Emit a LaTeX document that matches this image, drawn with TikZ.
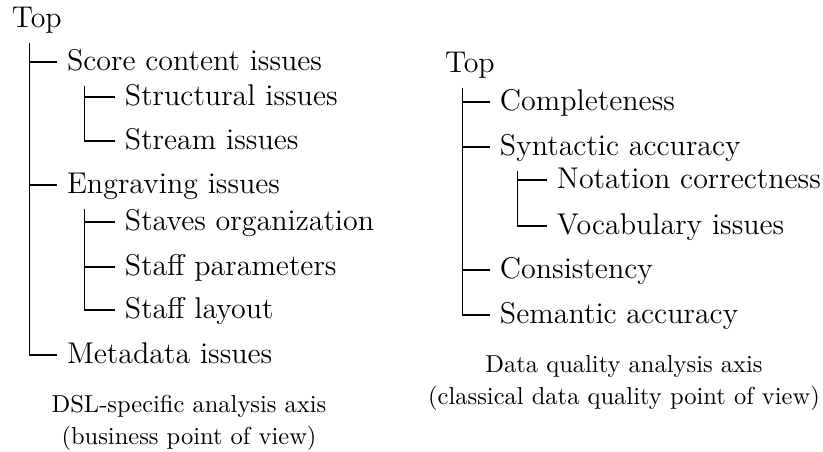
\documentclass[tikz,border=0pt]{standalone}
\usepackage{fontspec}
\begin{document}
\begin{tikzpicture}[x=0.4pt,y=-0.4pt,
  item/.style={anchor=base west,inner sep=0pt,outer sep=0pt,font=\fontsize{12}{14}\selectfont},
  capt/.style={anchor=base,inner sep=0pt,outer sep=0pt,font=\fontsize{9.8}{12}\selectfont},
  branch/.style={line width=0.45pt}]
\useasboundingbox (0,0) rectangle (823,452);
\newcommand{\conn}[2]{\draw[branch] ([xshift=7.0pt,yshift=-6pt]#1.base west) |- ([xshift=-4pt,yshift=3.6pt]#2.base west);}
% left tree
\node[item] (lt) at (12,28) {Top};
\node[item] (sc) at (67,71) {Score content issues};
\node[item] (st) at (125,106) {Structural issues};
\node[item] (sm) at (125,150) {Stream issues};
\node[item] (en) at (67,194) {Engraving issues};
\node[item] (so) at (125,231) {Staves organization};
\node[item] (sp) at (125,276) {Staff parameters};
\node[item] (sl) at (125,319) {Staff layout};
\node[item] (md) at (67,364) {Metadata issues};
\conn{lt}{sc}
\conn{lt}{en}
\conn{lt}{md}
\conn{sc}{st}
\conn{sc}{sm}
\conn{en}{so}
\conn{en}{sp}
\conn{en}{sl}
\node[capt] (lc1) at (189,413) {DSL-specific analysis axis};
\node[capt] (lc2) at (189,445) {(business point of view)};
% right tree
\node[item] (rt) at (445,73) {Top};
\node[item] (co) at (500,111) {Completeness};
\node[item] (sy) at (500,156) {Syntactic accuracy};
\node[item] (nc) at (557,189) {Notation correctness};
\node[item] (vi) at (557,235) {Vocabulary issues};
\node[item] (cs) at (500,279) {Consistency};
\node[item] (se) at (500,324) {Semantic accuracy};
\conn{rt}{co}
\conn{rt}{sy}
\conn{rt}{cs}
\conn{rt}{se}
\conn{sy}{nc}
\conn{sy}{vi}
\node[capt] (rc1) at (624,373) {Data quality analysis axis};
\node[capt] (rc2) at (624,405) {(classical data quality point of view)};
\end{tikzpicture}
\end{document}
